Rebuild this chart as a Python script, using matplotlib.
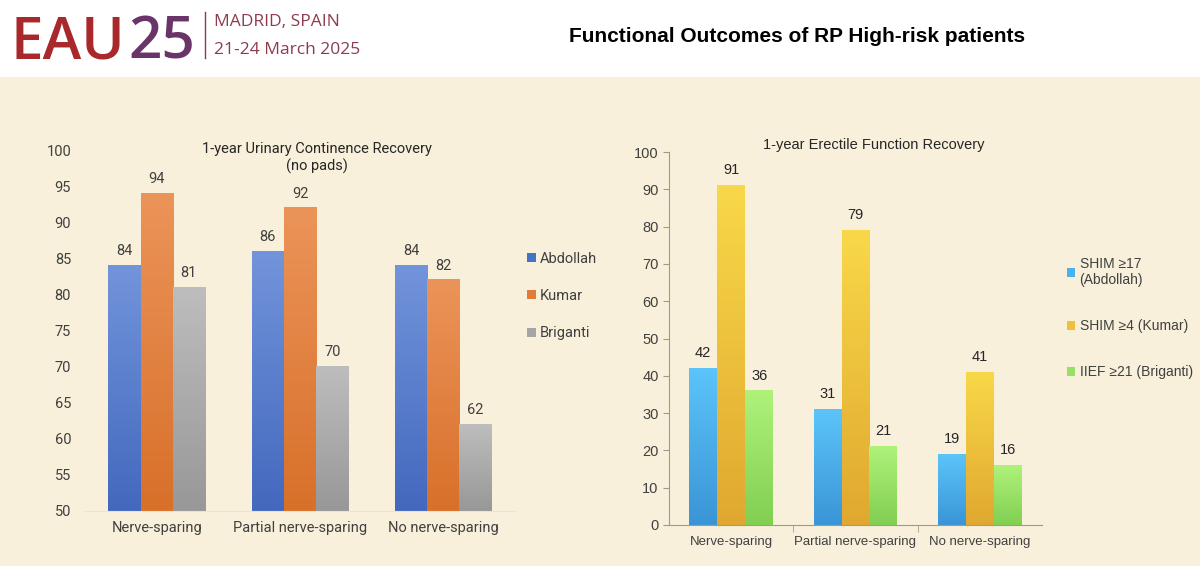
import numpy as np
import matplotlib.pyplot as plt
from matplotlib.patches import Rectangle
from matplotlib.colors import LinearSegmentedColormap

# data
categories = ['Nerve-sparing', 'Partial nerve-sparing', 'No nerve-sparing']

uc_series = ['Abdollah', 'Kumar', 'Briganti']
uc_values = [[84, 86, 84],
             [94, 92, 82],
             [81, 70, 62]]

ef_series = ['SHIM \u226517\n(Abdollah)', 'SHIM \u22654 (Kumar)', 'IIEF \u226521 (Briganti)']
ef_values = [[42, 31, 19],
             [91, 79, 41],
             [36, 21, 16]]

W, H = 1200, 566
BG = '#F8F0DB'

fig = plt.figure(figsize=(W / 100, H / 100), dpi=100, facecolor=BG)


def fx(px):
    return px / W


def fy(py):
    return 1 - py / H


# white header band
fig.patches.append(Rectangle((0, fy(77)), 1, 77 / H, transform=fig.transFigure,
                             facecolor='white', edgecolor='none', zorder=0))

# logo
eau = fig.text(fx(11), fy(58), 'EAU', color='#A8282C', fontsize=42, family='Open Sans',
               fontweight='semibold', va='baseline', ha='left')
fig.canvas.draw()
bb = eau.get_window_extent()
fig.text(bb.x1 / W + fx(3), fy(58), '25', color='#6A3468', fontsize=42, family='Open Sans',
         fontweight='semibold', va='baseline', ha='left')
fig.add_artist(plt.Line2D([fx(205), fx(205)], [fy(12), fy(58)], color='#8E3B4E',
                          lw=1, transform=fig.transFigure))
fig.text(fx(214), fy(22), 'MADRID, SPAIN', color='#8E3B4E', fontsize=12.5,
         family='Open Sans', va='center', ha='left')
fig.text(fx(214), fy(50), '21-24 March 2025', color='#8E3B4E', fontsize=12.5,
         family='Open Sans', va='center', ha='left')

fig.text(fx(797), fy(37), 'Functional Outcomes of RP High-risk patients',
         fontsize=15, fontweight='bold', family='Liberation Sans', ha='center', va='center')


def gradient_bars(ax, x, vals, width, top_c, bot_c, base):
    bars = ax.bar(x, [v - base for v in vals], width, bottom=base, color='none',
                  edgecolor='none', zorder=2)
    cmap = LinearSegmentedColormap.from_list('g', [bot_c, top_c])
    grad = np.linspace(0, 1, 100).reshape(-1, 1)
    for b in bars:
        x0 = b.get_x()
        ax.imshow(grad, extent=[x0, x0 + b.get_width(), base, base + b.get_height()],
                  origin='lower', aspect='auto', cmap=cmap, zorder=2)
    return bars


x = np.arange(len(categories))

# ---- left chart
ax1 = fig.add_axes([fx(85), fy(511), fx(515) - fx(85), (511 - 150) / H])
ax1.set_facecolor('none')
w1 = 0.225
uc_cols = [('#7294DB', '#4468BE'), ('#EB9459', '#D8702A'), ('#BDBDBD', '#989898')]
uc_solid = ['#4472C4', '#E07B39', '#A5A5A5']
for i, (vals, name) in enumerate(zip(uc_values, uc_series)):
    pos = x + (i - 1) * w1
    gradient_bars(ax1, pos, vals, w1, uc_cols[i][0], uc_cols[i][1], 50)
    for p, v in zip(pos, vals):
        ax1.text(p, v + 1.0, str(v), ha='center', va='bottom', fontsize=10.5,
                 color='#404040', family='Roboto')
    ax1.bar(0, 0, color=uc_solid[i], label=name)
ax1.set_xlim(-0.5, 2.5)
ax1.set_ylim(50, 100)
ax1.set_yticks(range(50, 101, 5))
ax1.set_xticks(x)
ax1.set_xticklabels(categories, family='Roboto', fontsize=10.5, color='#404040')
for t in ax1.get_yticklabels():
    t.set_family('Roboto')
ax1.tick_params(axis='y', length=0, pad=10, labelsize=10.5, labelcolor='#404040')
ax1.tick_params(axis='x', length=0, pad=7)
for s in ['top', 'right', 'left']:
    ax1.spines[s].set_visible(False)
ax1.spines['bottom'].set_color('#EDE3CB')
ax1.set_title('1-year Urinary Continence Recovery\n(no pads)', fontsize=10.5,
              family='Roboto', color='#262626', y=0.92, linespacing=1.25, x=0.54)
ax1.legend(loc='center left', bbox_to_anchor=(fx(527), fy(296)), bbox_transform=fig.transFigure,
           frameon=False, handlelength=0.6, handleheight=0.6, handletextpad=0.3,
           borderpad=0, borderaxespad=0,
           labelspacing=1.6, prop={'family': 'Roboto', 'size': 10.5}, labelcolor='#404040')

# ---- right chart
ax2 = fig.add_axes([fx(669), fy(525), fx(1042) - fx(669), (525 - 152) / H])
ax2.set_facecolor('none')
w2 = 0.225
ef_cols = [('#5CC4FA', '#3A95D6'), ('#F8D848', '#E0A830'), ('#AEF27A', '#82CF52')]
ef_solid = ['#4BB0EE', '#EEC03C', '#96E064']
for i, (vals, name) in enumerate(zip(ef_values, ef_series)):
    pos = x + (i - 1) * w2
    gradient_bars(ax2, pos, vals, w2, ef_cols[i][0], ef_cols[i][1], 0)
    for p, v in zip(pos, vals):
        ax2.text(p, v + 2.2, str(v), ha='center', va='bottom', fontsize=10.5,
                 color='#262626', family='Liberation Sans')
    ax2.bar(0, 0, color=ef_solid[i], label=name)
ax2.set_xlim(-0.5, 2.5)
ax2.set_ylim(0, 100)
ax2.set_yticks(range(0, 101, 10))
ax2.set_xticks(x)
ax2.set_xticks([0.5, 1.5], minor=True)
ax2.set_xticklabels(categories, family='Liberation Sans', fontsize=9.5, color='#404040')
for t in ax2.get_yticklabels():
    t.set_family('Liberation Sans')
ax2.tick_params(axis='y', length=4, color='#A09A8C', labelsize=10.5, labelcolor='#404040')
ax2.tick_params(axis='x', which='major', length=0, pad=8)
ax2.tick_params(axis='x', which='minor', length=5, color='#A09A8C')
for s in ['top', 'right']:
    ax2.spines[s].set_visible(False)
for s in ['left', 'bottom']:
    ax2.spines[s].set_color('#A09A8C')
ax2.set_title('1-year Erectile Function Recovery', fontsize=10.5,
              family='Liberation Sans', color='#262626', y=0.985, x=0.55)
ax2.legend(loc='center left', bbox_to_anchor=(fx(1067), fy(318)), bbox_transform=fig.transFigure,
           frameon=False, handlelength=0.6, handleheight=0.6, handletextpad=0.3,
           borderpad=0, borderaxespad=0,
           labelspacing=2.3, prop={'family': 'Liberation Sans', 'size': 10},
           labelcolor='#404040')

fig.savefig('out.png', dpi=100, facecolor=BG)
